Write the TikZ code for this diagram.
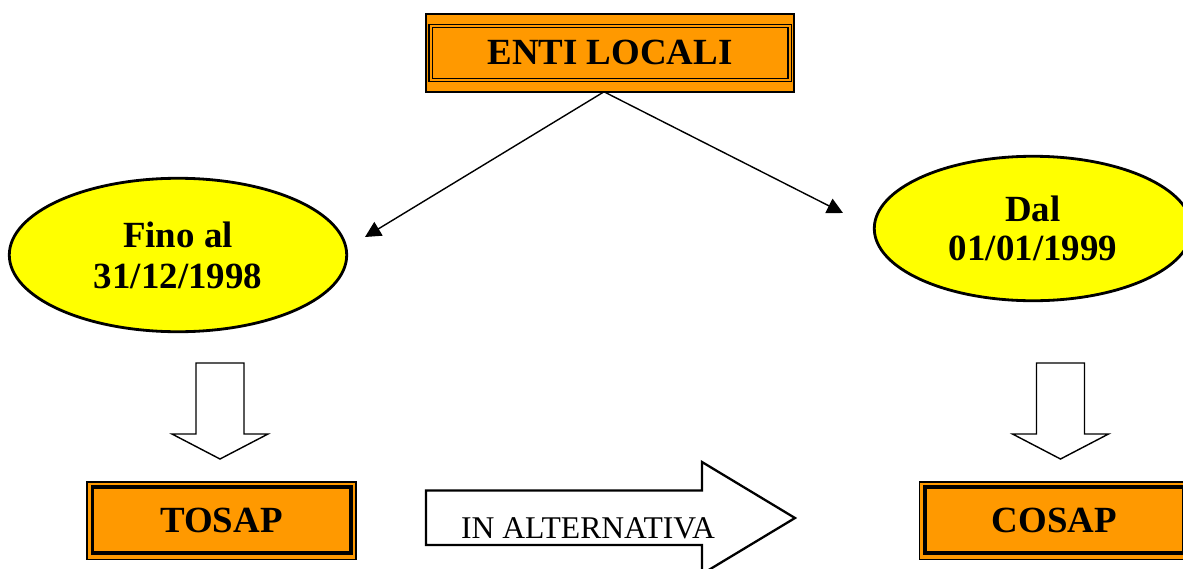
\documentclass[tikz,border=0pt]{standalone}
\usepackage{fontspec}
\setmainfont{Liberation Serif}
\usetikzlibrary{shapes.geometric}
\usetikzlibrary{arrows.meta}
\usetikzlibrary{calc}
\definecolor{boxorange}{HTML}{FF9900}
\definecolor{dateyellow}{HTML}{FFFF00}
\tikzset{titlebox/.style={draw=black, fill=boxorange, line width=1.3pt, outer sep=0pt, minimum width=7.35cm, minimum height=1.56cm, font=\fontsize{21}{23}\selectfont\bfseries},
  taxbox/.style={draw=black, fill=boxorange, line width=1pt, outer sep=0pt, minimum width=5.39cm, minimum height=1.55cm, font=\fontsize{21}{23}\selectfont\bfseries},
  datebubble/.style={ellipse, draw=black, fill=dateyellow, line width=1.6pt, outer sep=0pt, inner sep=0pt, align=center, font=\fontsize{21}{23}\selectfont\bfseries},
  doubleframe/.style={draw=black, double=boxorange, line width=0.8pt, double distance=1pt},
  thickframe/.style={draw=black, line width=2pt},
  blockarrow/.style={draw=black, fill=white, line width=0.8pt},
  bigarrow/.style={draw=black, fill=white, line width=1.3pt},
  alttext/.style={font=\fontsize{18}{20}\selectfont, inner sep=0pt},
  link/.style={draw=black, line width=0.8pt, -{Triangle[length=9pt, width=9pt]}}}

\begin{document}
\begin{tikzpicture}[x=0.02cm, y=-0.02cm]
  \useasboundingbox (0,0) rectangle (1183,568);
  \clip (0,0) rectangle (1183,568);

  \node[titlebox] (enti) at (610,52.8) {ENTI LOCALI};
  \draw[doubleframe] ([shift={(4.4,12)}]enti.north west) rectangle ([shift={(-4,-12)}]enti.south east);

  \node[datebubble, minimum width=6.75cm, minimum height=3.07cm, text depth=0pt] (fino) at (178,255) {Fino al\\31/12/1998};
  \node[datebubble, minimum width=6.35cm, minimum height=2.89cm, font=\fontsize{21}{22.3}\selectfont\bfseries] (dal) at (1033,228.5) {Dal\\01/01/1999};

  \coordinate (finotip) at (365,237);
  \coordinate (daltip) at (843,213);
  \draw[link] ([shift={(-6,0)}]enti.south) -- (finotip);
  \draw[link] ([shift={(-6,0)}]enti.south) -- (daltip);

  % block arrows under the dates
  \foreach \x in {220,1060.5}{
    \draw[blockarrow] (\x-24,363) -- (\x+24,363) -- (\x+24,434) -- (\x+48,434) -- (\x,459) -- (\x-48,434) -- (\x-24,434) -- cycle;
  }

  \node[taxbox] (tosap) at (221.5,520.7) {TOSAP};
  \node[taxbox] (cosap) at (1054.3,520.7) {COSAP};
  \foreach \n in {tosap,cosap}{
    \draw[thickframe] ([shift={(5.5,5)}]\n.north west) rectangle ([shift={(-5.3,-6.2)}]\n.south east);
  }

  \draw[bigarrow] (426,490.5) -- (702,490.5) -- (702,462) -- (795,518) -- (702,574) -- (702,545) -- (426,545) -- cycle;
  \node[alttext, anchor=base] (alt) at (588,538) {IN ALTERNATIVA};
\end{tikzpicture}
\end{document}
